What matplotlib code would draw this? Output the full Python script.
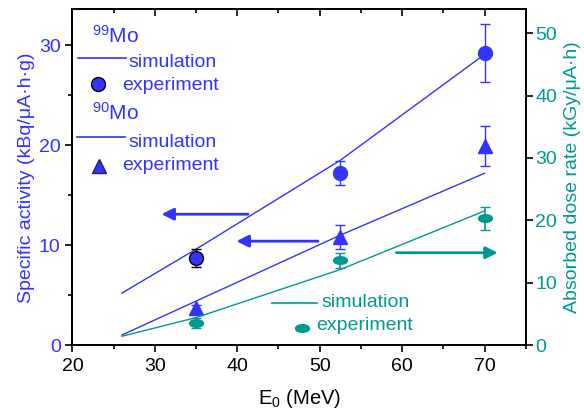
import numpy as np
import matplotlib
import matplotlib.pyplot as plt
from matplotlib.path import Path
from matplotlib.transforms import Affine2D
from matplotlib.ticker import MultipleLocator

plt.rcParams['font.family'] = ['Liberation Sans', 'DejaVu Sans']
plt.rcParams['mathtext.fontset'] = 'custom'
plt.rcParams['mathtext.rm'] = 'Liberation Sans'
plt.rcParams['mathtext.it'] = 'Liberation Sans:italic'

BLUE = '#3333ff'
TEAL = '#00998f'

# simulation curves (E0 in MeV)
e_sim = [26, 35, 52.5, 70]
mo99_sim = [5.2, 9.6, 18.5, 29.1]
mo90_sim = [1.0, 4.4, 11.0, 17.2]
dose_sim = [1.4, 4.4, 12.1, 21.5]

# experiment points
e_exp = [35, 52.5, 70]
mo99_exp = [8.7, 17.2, 29.2]
mo99_err = [0.9, 1.2, 2.9]
mo90_exp = [3.7, 10.8, 19.9]
mo90_err = [0.3, 1.2, 2.0]
dose_exp = [3.6, 13.6, 20.3]
dose_err = [0.8, 1.2, 1.8]

ellipse = Path.unit_circle().transformed(Affine2D().scale(1.0, 0.55))

fig = plt.figure(figsize=(5.84, 4.13), dpi=100)
ax = fig.add_axes([0.1241, 0.1646, 0.7761, 0.8124])
ax2 = ax.twinx()

# 99Mo
ax.plot(e_sim, mo99_sim, color=BLUE, lw=1)
ax.errorbar(e_exp[:1], mo99_exp[:1], yerr=mo99_err[:1], fmt='o', ms=10,
            mfc=BLUE, mec='black', mew=1, ecolor='black', elinewidth=1, capsize=3.5)
ax.errorbar(e_exp[1:], mo99_exp[1:], yerr=mo99_err[1:], fmt='o', ms=10,
            mfc=BLUE, mec=BLUE, ecolor=BLUE, elinewidth=1, capsize=3.5)

# 90Mo
ax.plot(e_sim, mo90_sim, color=BLUE, lw=1)
ax.errorbar(e_exp, mo90_exp, yerr=mo90_err, fmt='^', ms=10,
            mfc=BLUE, mec=BLUE, ecolor=BLUE, elinewidth=1, capsize=3.5)

# absorbed dose
ax2.plot(e_sim, dose_sim, color=TEAL, lw=1)
ax2.errorbar(e_exp, dose_exp, yerr=dose_err, fmt='none', ecolor=TEAL, elinewidth=1.2, capsize=3.5)
ax2.plot(e_exp, dose_exp, ls='none', marker=ellipse, ms=10, mfc=TEAL, mec=TEAL)

ax.set_xlim(20, 75)
ax.set_ylim(0, 33.6)
ax2.set_ylim(0, 53.8)

ax.xaxis.set_major_locator(MultipleLocator(10))
ax.xaxis.set_minor_locator(MultipleLocator(5))
ax.yaxis.set_major_locator(MultipleLocator(10))
ax.yaxis.set_minor_locator(MultipleLocator(5))
ax2.yaxis.set_major_locator(MultipleLocator(10))

ax.tick_params(axis='both', which='major', direction='out', length=5, width=1.2, labelsize=14)
ax.tick_params(axis='both', which='minor', direction='out', length=3, width=1.2)
ax.tick_params(axis='y', labelcolor=BLUE, color='black', which='both')
ax.tick_params(axis='x', pad=4)
ax2.tick_params(axis='y', direction='out', length=5, width=1.2, labelsize=14,
                labelcolor=TEAL, color='black', pad=2)

top = ax.secondary_xaxis('top')
top.xaxis.set_major_locator(MultipleLocator(10))
top.xaxis.set_minor_locator(MultipleLocator(5))
top.tick_params(which='major', direction='in', length=5, width=1.2, labeltop=False)
top.tick_params(which='minor', direction='in', length=3, width=1.2)

for a in (ax, ax2):
    for s in a.spines.values():
        s.set_linewidth(1.4)
top.spines['top'].set_linewidth(1.4)

ax.set_xlabel('E$_0$ (MeV)', fontsize=14.5, labelpad=9)
ax.set_ylabel('Specific activity (kBq/μA·h·g)', fontsize=14, color=BLUE, labelpad=3)
ax2.set_ylabel('Absorbed dose rate (kGy/μA·h)', fontsize=14, color=TEAL, labelpad=5)

# legend drawn by hand, like the original
tr = ax.transAxes
ax.text(0.043, 0.901, r'$\mathregular{^{99}}$Mo', transform=tr, fontsize=15, color=BLUE)
ax.plot([0.012, 0.118], [0.855, 0.855], transform=tr, color=BLUE, lw=1.2)
ax.text(0.1225, 0.8295, 'simulation', transform=tr, fontsize=14, color=BLUE)
ax.plot([0.0556], [0.778], transform=tr, marker='o', ms=10, mfc=BLUE, mec='black', mew=1)
ax.text(0.109, 0.759, 'experiment', transform=tr, fontsize=14, color=BLUE)

ax.text(0.043, 0.6706, r'$\mathregular{^{90}}$Mo', transform=tr, fontsize=15, color=BLUE)
ax.plot([0.010, 0.116], [0.62, 0.62], transform=tr, color=BLUE, lw=1.2)
ax.text(0.1225, 0.591, 'simulation', transform=tr, fontsize=14, color=BLUE)
ax.plot([0.0585], [0.5344], transform=tr, marker='^', ms=10, mfc=BLUE, mec='#202060', mew=1)
ax.text(0.109, 0.5216, 'experiment', transform=tr, fontsize=14, color=BLUE)

ax.plot([0.4395, 0.5389], [0.1243, 0.1243], transform=tr, color=TEAL, lw=1.2)
ax.text(0.55, 0.1133, 'simulation', transform=tr, fontsize=14, color=TEAL)
ax.errorbar([0.5056], [0.0507], yerr=[0.006], transform=tr, fmt='none', ecolor=TEAL,
            elinewidth=1.2, capsize=3)
ax.plot([0.5056], [0.0507], transform=tr, marker=ellipse, ms=10, mfc=TEAL, mec=TEAL)
ax.text(0.537, 0.0447, 'experiment', transform=tr, fontsize=14, color=TEAL)

# arrows pointing to the axes
arrow = dict(arrowstyle='-|>', lw=2, mutation_scale=18, shrinkA=0, shrinkB=0)
ax.annotate('', xy=(30.8, 13.1), xytext=(41.3, 13.1), arrowprops=dict(color=BLUE, **arrow))
ax.annotate('', xy=(39.9, 10.4), xytext=(49.8, 10.4), arrowprops=dict(color=BLUE, **arrow))
ax2.annotate('', xy=(71.6, 14.8), xytext=(59.3, 14.8), arrowprops=dict(color=TEAL, **arrow))

fig.savefig('out.png', dpi=100)
